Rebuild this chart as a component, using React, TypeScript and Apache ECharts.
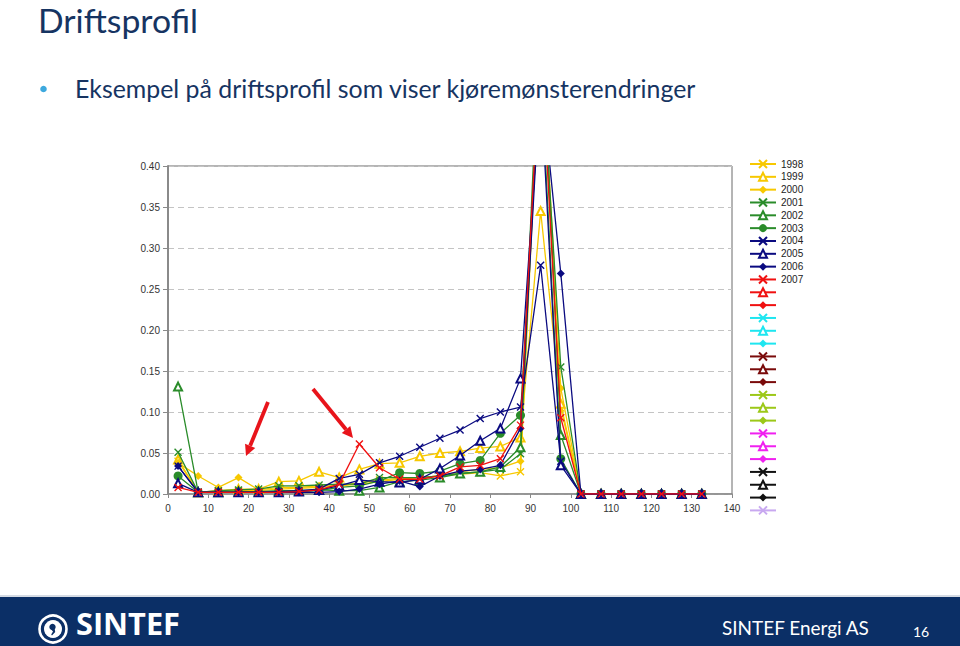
import React, { useEffect, useRef } from 'react';
import * as echarts from 'echarts';

// ---- data ----
const binCenters = [2.5, 7.5, 12.5, 17.5, 22.5, 27.5, 32.5, 37.5, 42.5, 47.5, 52.5, 57.5, 62.5, 67.5, 72.5, 77.5, 82.5, 87.5, 92.5, 97.5, 102.5, 107.5, 112.5, 117.5, 122.5, 127.5, 132.5];

const s1998 = [0.040, 0.002, 0.003, 0.004, 0.004, 0.006, 0.007, 0.008, 0.010, 0.014, 0.017, 0.019, 0.020, 0.022, 0.024, 0.026, 0.022, 0.027, 0.56, 0.105, 0, 0, 0, 0, 0, 0, 0];
const s1999 = [0.042, 0.002, 0.004, 0.006, 0.006, 0.015, 0.016, 0.027, 0.020, 0.030, 0.037, 0.038, 0.046, 0.050, 0.052, 0.056, 0.058, 0.069, 0.345, 0.110, 0, 0, 0, 0, 0, 0, 0];
const s2000 = [0.038, 0.022, 0.008, 0.020, 0.005, 0.008, 0.008, 0.010, 0.010, 0.012, 0.015, 0.018, 0.020, 0.022, 0.027, 0.030, 0.032, 0.040, 0.58, 0.129, 0, 0, 0, 0, 0, 0, 0];
const s2001 = [0.051, 0.002, 0.004, 0.005, 0.006, 0.010, 0.010, 0.011, 0.012, 0.012, 0.020, 0.020, 0.020, 0.022, 0.025, 0.027, 0.030, 0.049, 0.55, 0.155, 0, 0, 0, 0, 0, 0, 0];
const s2002 = [0.131, 0.002, 0.002, 0.003, 0.003, 0.004, 0.004, 0.005, 0.004, 0.004, 0.008, 0.015, 0.017, 0.020, 0.025, 0.027, 0.033, 0.057, 0.60, 0.072, 0, 0, 0, 0, 0, 0, 0];
const s2003 = [0.022, 0.002, 0.002, 0.002, 0.002, 0.003, 0.003, 0.004, 0.008, 0.010, 0.016, 0.026, 0.025, 0.028, 0.037, 0.041, 0.074, 0.096, 0.52, 0.043, 0, 0, 0, 0, 0, 0, 0];
const s2004 = [0.034, 0.002, 0.002, 0.002, 0.002, 0.003, 0.004, 0.006, 0.019, 0.024, 0.038, 0.046, 0.057, 0.068, 0.078, 0.092, 0.100, 0.106, 0.279, 0.040, 0, 0, 0, 0, 0, 0, 0];
const s2005 = [0.013, 0.002, 0.002, 0.002, 0.002, 0.002, 0.003, 0.005, 0.010, 0.017, 0.015, 0.014, 0.018, 0.031, 0.047, 0.065, 0.080, 0.141, 0.50, 0.035, 0, 0, 0, 0, 0, 0, 0];
const s2006 = [0.034, 0.002, 0.002, 0.002, 0.002, 0.002, 0.002, 0.002, 0.003, 0.006, 0.012, 0.016, 0.009, 0.022, 0.028, 0.030, 0.035, 0.080, 0.51, 0.269, 0, 0, 0, 0, 0, 0, 0];
const s2007 = [0.008, 0.002, 0.002, 0.002, 0.002, 0.002, 0.003, 0.005, 0.012, 0.061, 0.032, 0.018, 0.018, 0.022, 0.033, 0.035, 0.043, 0.084, 0.55, 0.093, 0, 0, 0, 0, 0, 0, 0];

const yearNames = ['1998', '1999', '2000', '2001', '2002', '2003', '2004', '2005', '2006', '2007'];
const yearValues = [s1998, s1999, s2000, s2001, s2002, s2003, s2004, s2005, s2006, s2007];

// legend-only (unnamed) entries
const extraNames = ['_11', '_12', '_13', '_14', '_15', '_16', '_17', '_18', '_19', '_20', '_21', '_22', '_23', '_24', '_25', '_26', '_27', '_28'];

const yTicks = [0, 0.05, 0.1, 0.15, 0.2, 0.25, 0.3, 0.35, 0.4];
const xTicks = [0, 10, 20, 30, 40, 50, 60, 70, 80, 90, 100, 110, 120, 130, 140];

// ---- styles ----
const YEL = '#F7C800';
const GRN = '#2A8C2A';
const NAV = '#0A0A80';
const RED = '#F01010';
const CYN = '#1EE6F0';
const BRN = '#7A0A0A';
const YGN = '#9CC818';
const MAG = '#F020F0';
const BLK = '#111111';
const LAV = '#C8A8F0';

const allColors = [YEL, YEL, YEL, GRN, GRN, GRN, NAV, NAV, NAV, RED, RED, RED, CYN, CYN, CYN, BRN, BRN, BRN, YGN, YGN, YGN, MAG, MAG, MAG, BLK, BLK, BLK, LAV];
const markerCycle = ['x', 'tri', 'dia', 'x', 'tri', 'circ', 'x', 'tri', 'dia', 'x', 'tri', 'dia', 'x', 'tri', 'dia', 'x', 'tri', 'dia', 'x', 'tri', 'dia', 'x', 'tri', 'dia', 'x', 'tri', 'dia', 'x'];

const X_PATH = 'path://M0,0L10,10M10,0L0,10';

function markerStyle(kind: string, color: string) {
  if (kind === 'x') {
    return { symbol: X_PATH, symbolSize: 7, itemStyle: { color: color, borderColor: color, borderWidth: 1.4 } };
  }
  if (kind === 'tri') {
    return { symbol: 'emptyTriangle', symbolSize: 8, itemStyle: { color: color, borderColor: color, borderWidth: 1.3 } };
  }
  if (kind === 'circ') {
    return { symbol: 'circle', symbolSize: 9, itemStyle: { color: color, borderWidth: 0 } };
  }
  return { symbol: 'diamond', symbolSize: 8, itemStyle: { color: color, borderWidth: 0 } };
}

function fitSize(text: string, family: string, weight: string, target: number) {
  const ctx = document.createElement('canvas').getContext('2d');
  if (!ctx) return 20;
  ctx.font = `${weight} 40px ${family}`;
  const w = ctx.measureText(text).width;
  return (40 * target) / w;
}

function arrow(x0: number, y0: number, x1: number, y1: number, color: string) {
  const dx = x1 - x0;
  const dy = y1 - y0;
  const len = Math.sqrt(dx * dx + dy * dy);
  const ux = dx / len;
  const uy = dy / len;
  const hl = 11;
  const hw = 5.5;
  const bx = x1 - ux * hl;
  const by = y1 - uy * hl;
  return [
    { type: 'line', shape: { x1: x0, y1: y0, x2: bx, y2: by }, style: { stroke: color, lineWidth: 3.8 }, z: 20 },
    {
      type: 'polygon',
      shape: { points: [[x1, y1], [bx - uy * hw, by + ux * hw], [bx + uy * hw, by - ux * hw]] },
      style: { fill: color },
      z: 20,
    },
  ];
}

export default function App() {
  const ref = useRef<HTMLDivElement>(null);

  useEffect(() => {
    if (!ref.current) return;
    const chart = echarts.init(ref.current, undefined, { renderer: 'svg' });

    const titleText = 'Driftsprofil';
    const bulletText = 'Eksempel på driftsprofil som viser kjøremønsterendringer';
    const headFont = 'Lato, "Open Sans", sans-serif';
    const titleSize = fitSize(titleText, headFont, 'normal', 160);
    const bulletSize = fitSize(bulletText, headFont, 'normal', 622);
    const brandSize = fitSize('SINTEF', '"Open Sans", sans-serif', 'bold', 104);
    const footSize = fitSize('SINTEF Energi AS', headFont, 'normal', 148);

    const series: any[] = [];
    yearNames.forEach((name, i) => {
      const ms = markerStyle(markerCycle[i], allColors[i]);
      series.push({
        type: 'line',
        name,
        data: yearValues[i].map((v, j) => [binCenters[j], v]),
        ...ms,
        showSymbol: true,
        lineStyle: { color: allColors[i], width: 1.3 },
        clip: true,
        z: 2 + i * 0.01,
      });
    });
    extraNames.forEach((name, k) => {
      const i = k + 10;
      const ms = markerStyle(markerCycle[i], allColors[i]);
      series.push({
        type: 'line',
        name,
        data: [],
        ...ms,
        lineStyle: { color: allColors[i], width: 1.3 },
      });
    });

    const option: any = {
      animation: false,
      backgroundColor: '#ffffff',
      textStyle: { fontFamily: '"Liberation Sans", Arial, sans-serif' },
      grid: {
        left: 168,
        top: 166,
        width: 564,
        height: 328,
        show: true,
        borderColor: '#6a6a6a',
        borderWidth: 1,
        backgroundColor: 'transparent',
      },
      xAxis: {
        type: 'value',
        min: xTicks[0],
        max: xTicks[xTicks.length - 1],
        interval: 10,
        axisLine: { show: true, onZero: false, lineStyle: { color: '#8a8a8a', width: 1.5 } },
        axisTick: { show: true, length: 4, lineStyle: { color: '#8a8a8a' } },
        splitLine: { show: false },
        axisLabel: { fontSize: 10, color: '#333', margin: 9, fontFamily: '"Liberation Sans", Arial' },
      },
      yAxis: {
        type: 'value',
        min: yTicks[0],
        max: yTicks[yTicks.length - 1],
        interval: 0.05,
        axisLine: { show: true, lineStyle: { color: '#8a8a8a', width: 2 } },
        axisTick: { show: true, length: 5, lineStyle: { color: '#8a8a8a' } },
        splitLine: { show: true, lineStyle: { color: '#c4c4c4', type: [6, 4], width: 1 } },
        axisLabel: {
          fontSize: 10,
          color: '#333',
          margin: 8,
          fontFamily: '"Liberation Sans", Arial',
          formatter: (v: number) => v.toFixed(2),
        },
      },
      legend: {
        orient: 'vertical',
        left: 749,
        top: 159,
        padding: 0,
        itemWidth: 26,
        itemHeight: 10,
        itemGap: 2.83,
        selectedMode: false,
        data: [...yearNames, ...extraNames],
        formatter: (n: string) => (n.charAt(0) === '_' ? ' ' : n),
        textStyle: { fontSize: 10, lineHeight: 10, color: '#222', fontFamily: '"Liberation Sans", Arial' },
      },
      series,
      graphic: [
        {
          type: 'text',
          left: 38,
          top: 3,
          style: { text: titleText, font: `${titleSize}px ${headFont}`, fill: '#163462' },
        },
        { type: 'circle', shape: { cx: 43.5, cy: 89, r: 3.3 }, style: { fill: '#3DA9DE' } },
        {
          type: 'text',
          left: 75,
          top: 91 - bulletSize * 0.62,
          style: { text: bulletText, font: `${bulletSize}px ${headFont}`, fill: '#163462' },
        },
        ...arrow(268, 402, 246, 456, '#E8141B'),
        ...arrow(313, 389, 353, 438, '#E8141B'),
        { type: 'rect', shape: { x: 0, y: 595, width: 960, height: 2 }, style: { fill: '#d5dbe4' } },
        { type: 'rect', shape: { x: 0, y: 597, width: 960, height: 49 }, style: { fill: '#0B2F66' } },
        { type: 'circle', shape: { cx: 53, cy: 629, r: 13.5 }, style: { fill: 'none', stroke: '#ffffff', lineWidth: 2.6 } },
        { type: 'circle', shape: { cx: 53, cy: 629, r: 9 }, style: { fill: '#ffffff' } },
        { type: 'circle', shape: { cx: 52.5, cy: 627, r: 3.2 }, style: { fill: '#0B2F66' } },
        {
          type: 'polygon',
          shape: { points: [[54.6, 628.5], [55.2, 632], [52, 635.5], [51.2, 634.6], [53, 631.6], [51.5, 629.8]] },
          style: { fill: '#0B2F66' },
        },
        {
          type: 'text',
          left: 76,
          top: 629 - brandSize * 0.7,
          style: { text: 'SINTEF', font: `bold ${brandSize}px "Open Sans", sans-serif`, fill: '#ffffff' },
        },
        {
          type: 'text',
          left: 722,
          top: 630 - footSize * 0.65,
          style: { text: 'SINTEF Energi AS', font: `${footSize}px ${headFont}`, fill: '#ffffff' },
        },
        {
          type: 'text',
          left: 913,
          top: 624,
          style: { text: '16', font: `14px ${headFont}`, fill: '#ffffff' },
        },
      ],
    };

    chart.setOption(option);
    return () => chart.dispose();
  }, []);

  return <div ref={ref} style={{ position: 'absolute', left: 0, top: 0, width: 960, height: 646 }} />;
}
